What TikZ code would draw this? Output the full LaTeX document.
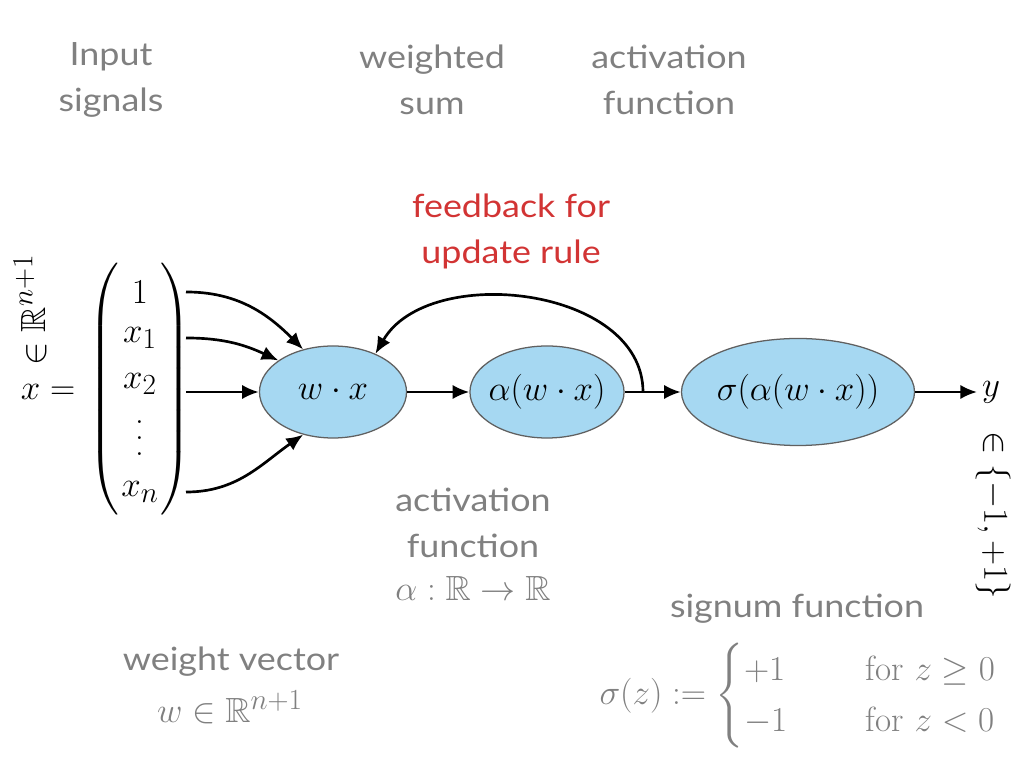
\documentclass[tikz,border=0pt]{standalone}
\usepackage{amsmath}
\usepackage{amssymb}
\usepackage[no-math]{fontspec}
\usepackage{xcolor}
\usetikzlibrary{shapes.geometric, positioning, arrows.meta, matrix}

\newfontfamily\labelfont[FakeStretch=1.12]{Lato}
\newcommand{\tallvdots}{\vbox{\baselineskip=11.5pt\lineskiplimit=0pt\hbox{.}\hbox{.}\hbox{.}}}
\definecolor{unitblue}{RGB}{166,216,242}
\definecolor{bordergrey}{RGB}{96,96,96}
\definecolor{labelgrey}{RGB}{128,128,128}
\definecolor{feedred}{RGB}{210,52,52}

\begin{document}
\begin{tikzpicture}[
        x=0.025cm, y=0.025cm,
        every node/.style={font=\fontsize{24.88}{30}\selectfont},
        unit/.style={ellipse, draw=bordergrey, line width=0.9pt, fill=unitblue, inner sep=0pt, minimum height=2.3cm},
        caption/.style={font=\labelfont\fontsize{22.8}{32.7}\selectfont, text=labelgrey, align=center},
        link/.style={draw, -{Latex[length=4.2mm, width=3.6mm]}, line width=1.9pt}
        ]
        \useasboundingbox (0,0) rectangle (1024,768);

        % Captions
        \node[caption] (inputcap) at (111,688) {Input\\signals};
        \node[caption] (sumcap) at (432,688) {weighted\\sum};
        \node[caption] (actcap) at (669,688) {activation\\function};
        \node[caption, text=feedred] (feedcap) at (511,537) {feedback for\\update rule};

        % Input vector
        \matrix (vec) [matrix of math nodes, left delimiter=(, right delimiter=), inner sep=0pt, row sep=0pt,
            nodes={minimum height=1.15cm, inner sep=0pt, anchor=center}] at (140,376) {
            1 \\
            x_1 \\
            x_2 \\[0.2cm]
            \tallvdots \\[0.2cm]
            x_n \\
        };
        \node (xeq) at (48,376) {$x =$};
        \node[rotate=90] (xspace) at (30,458) {$\in \mathbb{R}^{n+1}$};
        \coordinate (vr) at (186,376);

        % Units
        \node[unit, minimum width=3.675cm] (wx) at (333,376) {$w \cdot x$};
        \node[unit, minimum width=3.825cm, inner xsep=-0.1cm] (alpha) at (547,376) {$\alpha(w \cdot x)$};
        \node[unit, minimum width=5.825cm, minimum height=2.675cm] (sigma) at (798,376) {$\sigma(\alpha(w \cdot x))$};
        \node (y) at (991,376) {$y$};
        \node[rotate=-90] (yspace) at (993,253) {$\in \{-1,+1\}$};
        \coordinate (fb) at (643,376);

        % Bottom captions
        \node[caption] (actcap2) at (473,245) {activation\\function};
        \node[text=labelgrey] (alphamap) at (473,180) {$\alpha : \mathbb{R} \to \mathbb{R}$};
        \node[caption] (signcap) at (797,159) {signum function};
        \node[text=labelgrey] (signdef) at (798,72) {$\sigma(z) := \begin{cases} +1 & \hspace{1.25em}\text{for } z \geq 0 \\ -1 & \hspace{1.25em}\text{for } z < 0 \end{cases}$};
        \node[caption] (weightcap) at (231,106) {weight vector};
        \node[text=labelgrey] (weightdef) at (230,61) {$w \in \mathbb{R}^{n+1}$};

        % Links
        \draw[link] (vr |- vec-1-1) to[out=0, in=135] (wx.125);
        \draw[link] (vr |- vec-2-1) to[out=0, in=155] (wx.150);
        \draw[link] (vr) -- (wx);
        \draw[link] (vr |- vec-5-1) to[out=0, in=215] (wx.235);
        \draw[link] (wx) -- (alpha);
        \draw[link] (alpha) -- (sigma);
        \draw[link] (sigma) -- (y);
        \draw[link] (fb) to[out=90, in=60] (wx.42);

    \end{tikzpicture}
\end{document}
